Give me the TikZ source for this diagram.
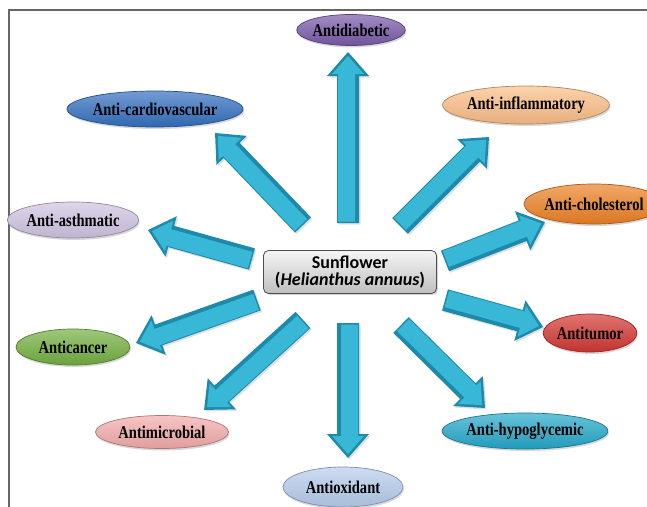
\documentclass[tikz,border=0pt]{standalone}
\usepackage{fontspec}
\usepackage{graphicx}
\setmainfont{Liberation Serif}
\newfontfamily\calib{Carlito}
\usetikzlibrary{shapes.geometric,shadows,calc}
\definecolor{cdiab}{HTML}{7A5BAA}
\definecolor{ccardio}{HTML}{3570C0}
\definecolor{cinflam}{HTML}{FBBE88}
\definecolor{casthma}{HTML}{D0C4E2}
\definecolor{cchol}{HTML}{EC8226}
\definecolor{ccancer}{HTML}{74B041}
\definecolor{ctumor}{HTML}{D33833}
\definecolor{cmicrob}{HTML}{F4ABAB}
\definecolor{chypo}{HTML}{25A8CA}
\definecolor{coxid}{HTML}{B6CDEC}
\definecolor{arrdark}{HTML}{1C8AAA}
\definecolor{arrlight}{HTML}{38B7D6}
\definecolor{framegray}{HTML}{666666}
\newcommand\ovtext[1]{\scalebox{0.97}[1.2]{#1}}
\newdimen\bax \newdimen\bay \newdimen\bbx \newdimen\bby
\newcommand\blockarrow[2]{%
  \pgfextractx{\bax}{\pgfpointanchor{#1}{center}}%
  \pgfextracty{\bay}{\pgfpointanchor{#1}{center}}%
  \pgfextractx{\bbx}{\pgfpointanchor{#2}{center}}%
  \pgfextracty{\bby}{\pgfpointanchor{#2}{center}}%
  \pgfmathsetmacro\baang{atan2(\bby-\bay,\bbx-\bax)}%
  \pgfmathsetmacro\balen{veclen(\bbx-\bax,\bby-\bay)}%
  \begin{scope}[shift={(#1)},rotate=\baang]
    \fill[arrdark, drop shadow={opacity=0.25,shadow xshift=1.5pt,shadow yshift=-1.5pt}]
      (0pt,-11pt) -- (\balen pt-24pt,-11pt) -- (\balen pt-24pt,-21pt) -- (\balen pt,0pt)
      -- (\balen pt-24pt,21pt) -- (\balen pt-24pt,11pt) -- (0pt,11pt) -- cycle;
    \fill[arrlight]
      (1.5pt,-7pt) -- (\balen pt-22pt,-7pt) -- (\balen pt-22pt,-16pt) -- (\balen pt-4pt,0pt)
      -- (\balen pt-22pt,16pt) -- (\balen pt-22pt,10pt) -- (1.5pt,10pt) -- cycle;
  \end{scope}}
\begin{document}
\begin{tikzpicture}[x=1pt,y=-1pt,
  oval/.style={ellipse, inner sep=0pt, draw=#1!70!black, line width=0.7pt,
    top color=#1!70!white, bottom color=#1!92!black,
    font=\bfseries\fontsize{15}{15}\selectfont, text=black,
    drop shadow={opacity=0.3,shadow xshift=1pt,shadow yshift=-2pt}},
  centerbox/.style={rectangle, rounded corners=5pt, draw=black!70, line width=0.8pt,
    top color=black!4, bottom color=black!25, align=center, inner sep=0pt,
    minimum width=173pt, minimum height=43pt,
    font=\calib\bfseries\fontsize{18}{16.5}\selectfont,
    drop shadow={opacity=0.3,shadow xshift=1.5pt,shadow yshift=-1.5pt}}
]
\useasboundingbox (0,0) rectangle (647,506);
\clip (0,0) rectangle (647,506);
\fill[white] (0,0) rectangle (647,506);
\draw[framegray, line width=1.8pt] (9,507) -- (9,10) -- (648,10);

% arrow end points
\coordinate (tU)  at (348,223); \coordinate (hU)  at (348,52);
\coordinate (tD)  at (348,323); \coordinate (hD)  at (348,458);
\coordinate (tUL) at (303,225); \coordinate (hUL) at (215,133);
\coordinate (tUR) at (400,226); \coordinate (hUR) at (489,137);
\coordinate (tLU) at (252,259); \coordinate (hLU) at (148,230);
\coordinate (tRU) at (445,261); \coordinate (hRU) at (545,222);
\coordinate (tLD) at (257,300); \coordinate (hLD) at (136,343);
\coordinate (tRD) at (445,300); \coordinate (hRD) at (543,327);
\coordinate (tDL) at (303,320); \coordinate (hDL) at (204,410);
\coordinate (tDR) at (401,325); \coordinate (hDR) at (485,408);

\blockarrow{tU}{hU}
\blockarrow{tD}{hD}
\blockarrow{tUL}{hUL}
\blockarrow{tUR}{hUR}
\blockarrow{tLU}{hLU}
\blockarrow{tRU}{hRU}
\blockarrow{tLD}{hLD}
\blockarrow{tRD}{hRD}
\blockarrow{tDL}{hDL}
\blockarrow{tDR}{hDR}

\node[centerbox] (sun) at (350,272) {Sunflower\\(\textit{Helianthus annuus})};

\node[oval=cdiab,   minimum width=103pt, minimum height=31pt] (diab)   at (351,30)  {\ovtext{Antidiabetic}};
\node[oval=ccardio, minimum width=154pt, minimum height=36pt] (cardio) at (155,109) {\ovtext{Anti-cardiovascular}};
\node[oval=cinflam, minimum width=142pt, minimum height=38pt] (inflam) at (526,105) {\ovtext{Anti-inflammatory}};
\node[oval=casthma, minimum width=120pt, minimum height=36pt] (asthma) at (73,220)  {\ovtext{Anti-asthmatic}};
\node[oval=cchol,   minimum width=124pt, minimum height=40pt] (chol)   at (594,204) {\ovtext{Anti-cholesterol}};
\node[oval=ccancer, minimum width=114pt, minimum height=36pt] (cancer) at (73,347)  {\ovtext{Anticancer}};
\node[oval=ctumor,  minimum width=92pt,  minimum height=38pt] (tumor)  at (590,333) {\ovtext{Antitumor}};
\node[oval=cmicrob, minimum width=133pt, minimum height=33pt] (microb) at (162,432) {\ovtext{Antimicrobial}};
\node[oval=chypo,   minimum width=144pt, minimum height=36pt] (hypo)   at (525,431) {\ovtext{Anti-hypoglycemic}};
\node[oval=coxid,   minimum width=120pt, minimum height=40pt] (oxid)   at (343,487) {\ovtext{Antioxidant}};
\end{tikzpicture}
\end{document}
